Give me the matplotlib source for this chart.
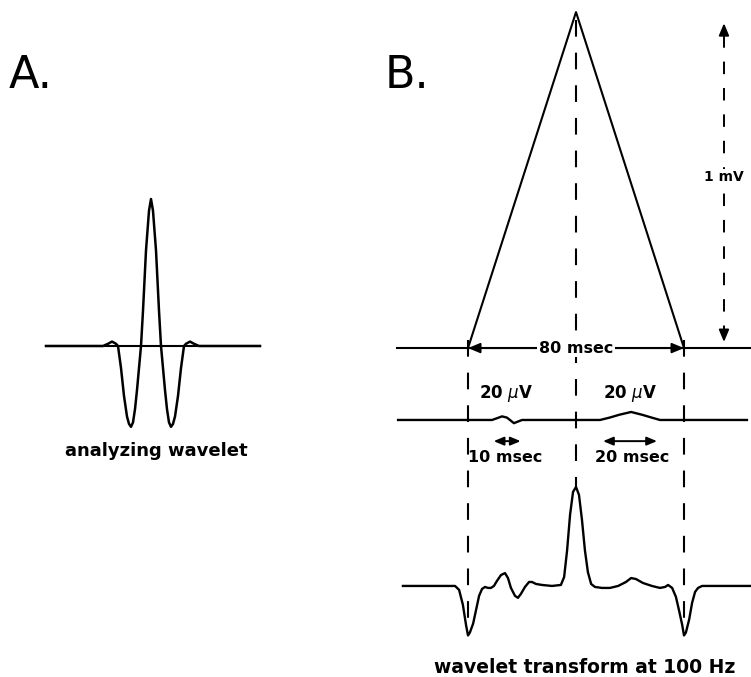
import matplotlib
matplotlib.use('Agg')
import matplotlib.pyplot as plt

plt.rcParams['lines.scale_dashes'] = False

# --- panel A: analyzing wavelet (time in msec, amplitude in arbitrary units)
wav_t = [-26.25, -12.0, -10.75, -9.75, -8.75, -8.25, -7.5, -6.75, -6.0, -5.5, -5.0,
         -4.5, -4.0, -3.5, -3.0, -2.5, -2.0, -1.25, -0.5, 0.0,
         0.5, 1.25, 2.0, 2.5, 3.0, 3.5, 4.0, 4.5, 5.0, 5.5, 6.0, 6.75, 7.5,
         8.25, 8.75, 9.75, 10.75, 12.0, 27.25]
wav_v = [0, 0, 0.015, 0.03, 0.015, 0, -0.15, -0.34, -0.48, -0.53, -0.55,
         -0.52, -0.43, -0.3, -0.15, 0, 0.24, 0.65, 0.92, 1.0,
         0.92, 0.65, 0.24, 0, -0.15, -0.3, -0.43, -0.52, -0.55, -0.53, -0.48, -0.34, -0.15,
         0, 0.015, 0.03, 0.015, 0, 0]

# --- panel B: 1 mV triangle, 80 msec wide
tri_t = [0, 40, 80]
tri_mv = [0, 1, 0]

# small bursts: 20 uV, 10 msec and 20 msec long
tr2_t = [-25.9, 8.9, 11.0, 12.6, 14.4, 15.9, 17.0, 18.5, 20.0,
         48.9, 52.5, 56.0, 60.4, 64.5, 68.0, 71.1, 103.3]
tr2_uv = [0, 0, 5, 9, 6, -2, -8, -4, 0,
          0, 6, 13, 20, 13, 6, 0, 0]
burst_mid = [14.5, 60]
burst_len = [10, 20]

# wavelet transform at 100 Hz (normalised to the central peak)
wt_t = [-24.1, -4.8, -3.3, -1.9, -0.7, 0.0, 0.7, 1.9, 3.0, 4.1, 5.2, 6.3, 7.4, 8.5,
        9.6, 10.7, 12.2, 13.7, 14.8, 15.9, 17.4, 18.5, 19.6, 21.1, 22.6, 23.7, 25.2,
        27.4, 31.1, 34.4, 35.6, 36.7, 37.8, 38.9, 40.0, 41.1, 42.2, 43.3, 44.4, 45.6,
        47.0, 49.6, 52.6, 55.6, 58.5, 60.4, 62.2, 64.8, 68.1, 71.1, 73.0, 74.1, 75.6,
        77.0, 78.1, 79.3, 80.0, 80.7, 81.9, 83.0, 84.1, 85.2, 86.7, 104.8]
wt_v = [0, 0, -0.04, -0.19, -0.40, -0.50, -0.47, -0.38, -0.24, -0.10, -0.03, -0.01, -0.02, -0.02,
        0.0, 0.05, 0.11, 0.13, 0.08, -0.02, -0.10, -0.12, -0.08, -0.01, 0.04, 0.04, 0.02,
        0.01, 0, 0.01, 0.09, 0.36, 0.72, 0.95, 1.0, 0.92, 0.67, 0.36, 0.14, 0.02,
        -0.01, -0.02, -0.02, 0, 0.04, 0.08, 0.07, 0.03, 0, -0.02, -0.01, 0.01, -0.02,
        -0.11, -0.24, -0.39, -0.50, -0.47, -0.34, -0.17, -0.06, -0.02, 0, 0]

W, H = 751, 677
fig = plt.figure(figsize=(W / 100, H / 100), dpi=100)

def fx(x):
    return x / W

def fy(y):
    return 1 - y / H

k = 'black'
dash = (0, (12, 11.5))

# panel A
axA = fig.add_axes([0, 0, 370 / W, 1])
axA.set_xlim(-37.75, 54.75)
axA.set_ylim(-2.252, 2.354)
axA.axis('off')
axA.plot([wav_t[0], wav_t[-1]], [0, 0], color=k, lw=1.5)
axA.plot(wav_t, wav_v, color=k, lw=1.8, solid_joinstyle='round')

# panel B
axB = fig.add_axes([370 / W, 0, 381 / W, 1])
axB.set_xlim(-36.30, 104.81)
axB.set_ylim(-0.979, 1.036)
axB.axis('off')

axB.plot([-26.3, 104.8], [0, 0], color=k, lw=1.5)
axB.plot(tri_t, tri_mv, color=k, lw=1.5)

off2, sc2 = -0.214, 0.4 / 336
axB.plot(tr2_t, [off2 + v * sc2 for v in tr2_uv], color=k, lw=1.7, solid_joinstyle='round')

off3, sc3 = -0.708, 99 / 336
axB.plot(wt_t, [off3 + v * sc3 for v in wt_v], color=k, lw=1.7, solid_joinstyle='round')

# dashed guides
axB.plot([tri_t[0]] * 2, [0.024, -0.82], color=k, lw=1.5, ls=dash)
axB.plot([tri_t[1]] * 2, [0.976, -0.414], color=k, lw=1.5, ls=dash)
axB.plot([tri_t[2]] * 2, [0.024, -0.82], color=k, lw=1.5, ls=dash)

head = '<|-|>,head_length=0.6,head_width=0.25'
axB.annotate('', xy=(tri_t[0], 0), xytext=(tri_t[2], 0),
             arrowprops=dict(arrowstyle=head, color=k, lw=1.4, mutation_scale=12,
                             shrinkA=0, shrinkB=0))
axB.text(tri_t[1], 0, '80 msec', ha='center', va='center', fontsize=11.5,
         fontweight='bold', bbox=dict(fc='white', ec='none', pad=1))

# 1 mV scale
xs = 94.8
axB.plot([xs, xs], [0.03, 0.95], color=k, lw=1.4, ls=(0, (9, 10)))
one = '-|>,head_length=0.6,head_width=0.25'
axB.annotate('', xy=(xs, 0.967), xytext=(xs, 0.94),
             arrowprops=dict(arrowstyle=one, color=k, lw=1.4, mutation_scale=12,
                             shrinkA=0, shrinkB=0))
axB.annotate('', xy=(xs, 0.018), xytext=(xs, 0.045),
             arrowprops=dict(arrowstyle=one, color=k, lw=1.4, mutation_scale=12,
                             shrinkA=0, shrinkB=0))
axB.text(xs, 0.508, '1 mV', ha='center', va='center', fontsize=10, fontweight='bold',
         bbox=dict(fc='white', ec='none', pad=1))

# burst duration arrows
for m, d in zip(burst_mid, burst_len):
    axB.annotate('', xy=(m - d / 2, -0.277), xytext=(m + d / 2, -0.277),
                 arrowprops=dict(arrowstyle=head, color=k, lw=1.4, mutation_scale=10,
                                 shrinkA=0, shrinkB=0))

# labels
fig.text(fx(9), fy(88), 'A.', fontsize=32, ha='left', va='baseline')
fig.text(fx(385), fy(88), 'B.', fontsize=32, ha='left', va='baseline')
fig.text(fx(156), fy(456), 'analyzing wavelet', fontsize=13.0, ha='center', va='baseline',
         fontweight='bold')
fig.text(fx(585), fy(673), 'wavelet transform at 100 Hz', fontsize=13.5, ha='center',
         va='baseline', fontweight='bold')
fig.text(fx(506), fy(393), '20 $\\mu$V', fontsize=12, ha='center', va='center',
         fontweight='bold')
fig.text(fx(630), fy(393), '20 $\\mu$V', fontsize=12, ha='center', va='center',
         fontweight='bold')
fig.text(fx(505), fy(457), '10 msec', fontsize=11.5, ha='center', va='center', fontweight='bold')
fig.text(fx(632), fy(457), '20 msec', fontsize=11.5, ha='center', va='center', fontweight='bold')

fig.savefig('out.png', dpi=100, facecolor='white')
